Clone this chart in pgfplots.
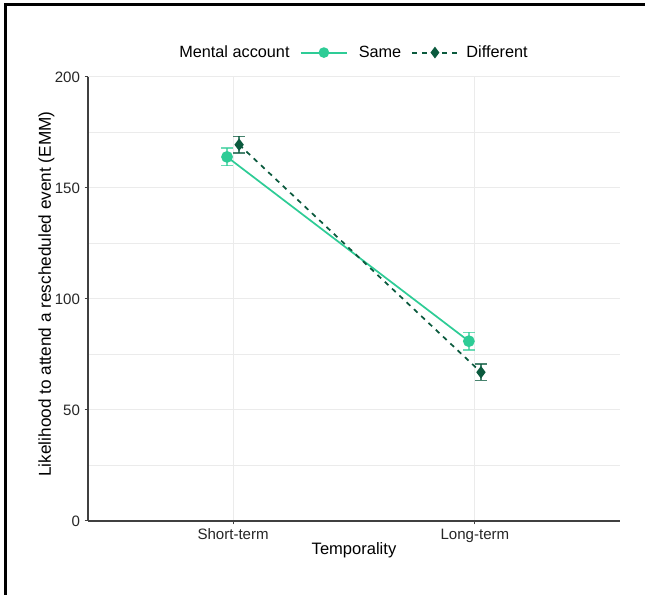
\documentclass[border=0pt]{standalone}
\usepackage{pgfplots}
\pgfplotsset{compat=1.18}
\usepackage{fontspec}
\setmainfont{Liberation Sans}
\definecolor{same}{HTML}{2ECC96}
\definecolor{diff}{HTML}{0B5A3E}
\definecolor{gridc}{HTML}{EBEBEB}
\begin{document}
\begin{tikzpicture}[x=1pt,y=1pt]
\useasboundingbox (0,0) rectangle (483.75,446.25);
\draw[line width=2.25pt] (3.75,0) -- (3.75,442.5) -- (483.75,442.5);
\begin{axis}[
  at={(66pt,55.5pt)}, anchor=south west,
  scale only axis, width=399pt, height=333pt,
  xmin=0.4, xmax=2.6, ymin=0, ymax=200,
  axis lines=left,
  axis line style={black!75, line width=1pt, -},
  xtick={1,2}, xticklabels={Short-term,Long-term},
  ytick={0,50,100,150,200}, minor ytick={25,75,125,175},
  xmajorgrids, ymajorgrids, yminorgrids,
  major grid style={gridc, line width=0.75pt},
  minor grid style={gridc, line width=0.6pt},
  tick align=outside, major tick length=2.5pt, minor tick length=0pt,
  tick style={black!75, line width=0.75pt},
  /pgf/number format/assume math mode=true,
  tick label style={font=\fontsize{11.3}{13}\selectfont, text=black!85},
  label style={font=\fontsize{12.4}{15}\selectfont},
  xlabel={Temporality},
  ylabel={Likelihood to attend a rescheduled event (EMM)},
  xlabel style={at={(axis description cs:0.5,-0.065)}, anchor=center},
  ylabel style={at={(axis description cs:-0.078,0.511)}, anchor=center, font=\fontsize{12.9}{15}\selectfont},
  legend style={at={(axis description cs:0.499,1.055)}, anchor=center,
    draw=none, fill=none, legend columns=-1,
    font=\fontsize{12.2}{15}\selectfont,
    /tikz/every even column/.append style={column sep=5.5pt}},
  clip=false,
]
\addlegendimage{empty legend}
\addlegendentry{Mental account}
\addplot[same, line width=1.3pt, mark=*, mark size=3.75pt,
  mark options={solid, fill=same, draw=same},
  legend image code/.code={\draw[same, line width=1.5pt, mark=*, mark size=3.2pt, mark options={solid, fill=same, draw=same}, mark repeat=2, mark phase=2] plot coordinates {(0pt,0pt)(17.5pt,0pt)(35pt,0pt)}; \path (41pt,0pt);},
  error bars/.cd, y dir=both, y explicit,
  error bar style={line width=1pt, draw=same, draw opacity=0.7, solid},
  error mark options={rotate=90, draw=same, draw opacity=0.7, mark size=4.5pt, line width=1pt, solid}]
  coordinates {(0.975,164) +- (0,4) (1.975,81) +- (0,4)};
\addlegendentry{Same}
\addplot[diff, line width=1.3pt, dash pattern=on 3.75pt off 3.75pt, mark=diamond*, mark size=3.6pt,
  mark options={solid, fill=diff, draw=diff},
  legend image code/.code={\draw[diff, line width=1.5pt, dash pattern=on 3.75pt off 3.75pt, mark=diamond*, mark size=3.2pt, mark options={solid, fill=diff, draw=diff}, mark repeat=2, mark phase=2] plot coordinates {(0pt,0pt)(17pt,0pt)(34pt,0pt)}; \path (38pt,0pt);},
  error bars/.cd, y dir=both, y explicit,
  error bar style={line width=1pt, draw=diff, draw opacity=0.75, solid},
  error mark options={rotate=90, draw=diff, draw opacity=0.75, mark size=4.5pt, line width=1pt, solid}]
  coordinates {(1.025,169.5) +- (0,3.8) (2.025,67) +- (0,3.7)};
\addlegendentry{Different}
\end{axis}
\end{tikzpicture}
\end{document}
